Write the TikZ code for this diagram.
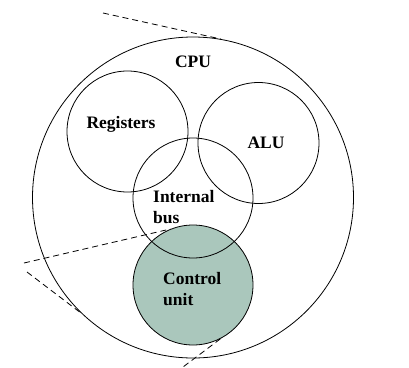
\documentclass[tikz,border=0pt]{standalone}
\usepackage{fontspec}
\setmainfont{Liberation Serif}
\definecolor{cufill}{RGB}{170,199,188}
\begin{document}
\begin{tikzpicture}[x=1pt,y=1pt,yscale=-1,
  ring/.style={draw,circle,inner sep=0pt,line width=0.8pt},
  lbl/.style={inner sep=0pt,font=\fontsize{17.5}{21}\selectfont\bfseries},
  ray/.style={dashed,dash pattern=on 6pt off 4pt,line width=0.8pt}]
\useasboundingbox (0,0) rectangle (409,367);
%Shape: Circle [id:cu] 
\node[ring,fill=cufill,minimum size=120] (ctrl) at (193,285) {};
%Shape: Circle [id:cpu] 
\node[ring,minimum size=321] (cpu) at (193,197.5) {};
%Shape: Circle [id:reg] 
\node[ring,minimum size=121] (reg) at (127.5,131.5) {};
%Shape: Circle [id:alu] 
\node[ring,minimum size=121] (alu) at (258.5,143) {};
%Shape: Circle [id:bus] 
\node[ring,minimum size=120] (bus) at (193,198) {};
%Straight Lines [id:top] 
\coordinate (topend) at (103,13);
\draw[ray] (topend) -- (cpu.80);
%Straight Lines [id:left] 
\coordinate (leftend) at (24,263);
\draw[ray] (leftend) -- (ctrl.112);
%Straight Lines [id:lower] 
\coordinate (lowend) at (27,272);
\draw[ray] (lowend) -- (cpu.-134);
%Straight Lines [id:bottom] 
\coordinate (botend) at (183,367);
\draw[ray] (ctrl.-63) -- (botend);
% Text Node
\node[lbl] (cpulbl) at (193,62) {CPU};
% Text Node
\node[lbl] (reglbl) at (121,124) {Registers};
% Text Node
\node[lbl] (alulbl) at (266,143) {ALU};
% Text Node
\node[lbl,anchor=west,align=left] (buslbl) at (153,207) {Internal\\bus};
% Text Node
\node[lbl,anchor=west,align=left] (cululbl) at (163,289) {Control\\unit};
\end{tikzpicture}
\end{document}
